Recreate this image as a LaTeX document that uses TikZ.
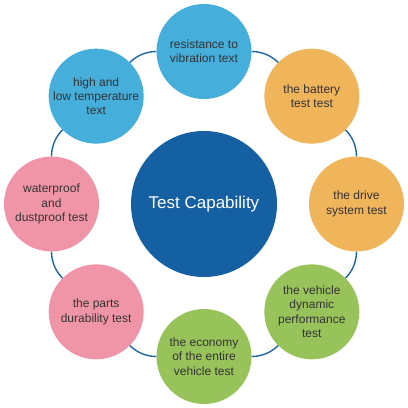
\documentclass[tikz,border=0pt]{standalone}
\usepackage{fontspec}
\setmainfont{Liberation Sans}
\usetikzlibrary{calc}
\definecolor{ctrblue}{HTML}{1460A2}
\definecolor{ringblue}{HTML}{1A64A8}
\definecolor{ltblue}{HTML}{45AEDA}
\definecolor{orng}{HTML}{F0B45B}
\definecolor{grn}{HTML}{98C35A}
\definecolor{pnk}{HTML}{F095A7}
\definecolor{txt}{HTML}{333333}
\tikzset{
  outer/.style={circle, minimum size=95pt, inner sep=0pt, align=center, text=txt,
    font=\fontsize{12}{14.3}\selectfont},
  ringline/.style={draw=ringblue, line width=1.4pt, bend left=22.5, looseness=0.885},
}
\begin{document}
\begin{tikzpicture}[x=1pt,y=1pt]
\useasboundingbox (0,0) rectangle (408,408);
\coordinate (O) at (204,204);
\node[circle, fill=ctrblue, minimum size=146pt, inner sep=0pt, text=white,
  font=\fontsize{17}{20}\selectfont] (ctr) at (O) {Test Capability};
\node[outer, fill=ltblue] (n1) at ($(O)+(90:152.5)$) {resistance to\\vibration text};
\node[outer, fill=orng] (n2) at ($(O)+(45:152.5)$) {the battery\\test test};
\node[outer, fill=orng] (n3) at ($(O)+(0:152.5)$) {the drive\\system test};
\node[outer, fill=grn] (n4) at ($(O)+(-45:152.5)$) {the vehicle\\dynamic\\performance\\test};
\node[outer, fill=grn] (n5) at ($(O)+(-90:152.5)$) {the economy\\of the entire\\vehicle test};
\node[outer, fill=pnk] (n6) at ($(O)+(-135:152.5)$) {the parts\\durability test};
\node[outer, fill=pnk] (n7) at ($(O)+(180:152.5)$) {waterproof\\and\\dustproof test};
\node[outer, fill=ltblue] (n8) at ($(O)+(135:152.5)$) {high and\\low temperature\\text};
\draw[ringline] (n1) to (n2);
\draw[ringline] (n2) to (n3);
\draw[ringline] (n3) to (n4);
\draw[ringline] (n4) to (n5);
\draw[ringline] (n5) to (n6);
\draw[ringline] (n6) to (n7);
\draw[ringline] (n7) to (n8);
\draw[ringline] (n8) to (n1);
\end{tikzpicture}
\end{document}
